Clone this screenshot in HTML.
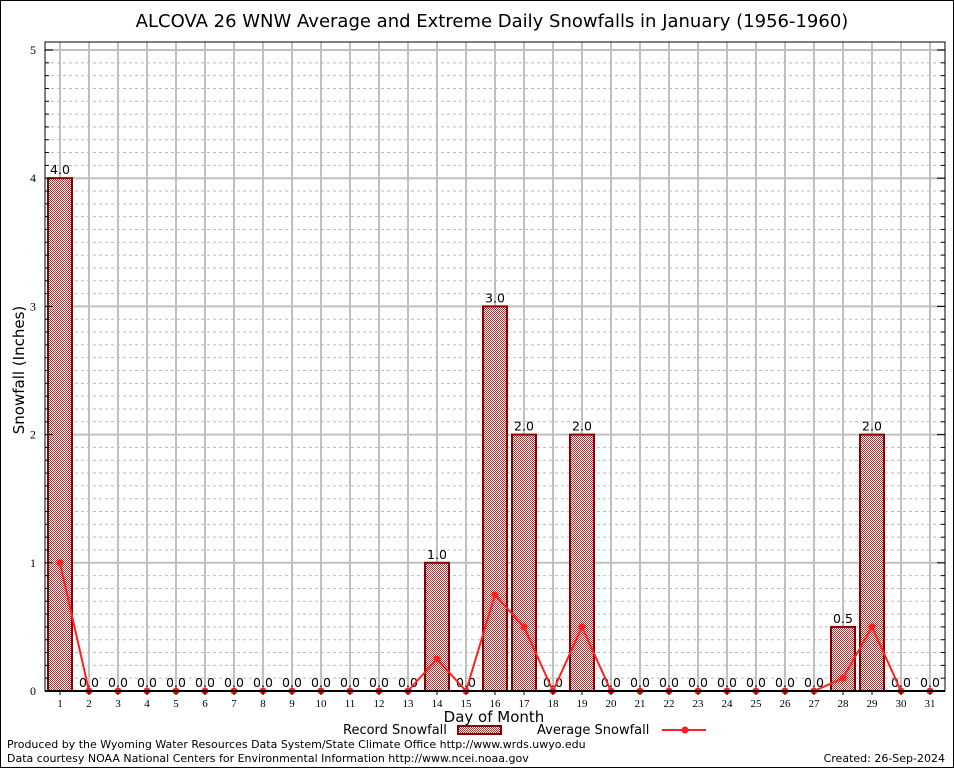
<!DOCTYPE html>
<html><head><meta charset="utf-8"><style>
body{margin:0;background:#fff;}
svg text{font-family:"DejaVu Sans","Liberation Sans",sans-serif;}
svg text.serif{font-family:"Liberation Serif",serif;}
</style></head><body>
<svg id="c" width="954" height="768" xmlns="http://www.w3.org/2000/svg">
<defs>
<pattern id="chk" width="2" height="2" patternUnits="userSpaceOnUse">
<rect width="2" height="2" fill="#fff"/><rect width="1" height="1" fill="#c03030"/><rect x="1" y="1" width="1" height="1" fill="#c03030"/>
</pattern>
</defs>
<rect x="0.5" y="0.5" width="953" height="767" fill="#fff" stroke="#000"/>
<text x="492" y="27" font-size="18" text-anchor="middle">ALCOVA 26 WNW Average and Extreme Daily Snowfalls in January (1956-1960)</text>
<g id="grid"></g>
<g id="bars"></g>
<g id="line"></g>
<g id="axes"></g>
<text transform="translate(24,370) rotate(-90)" font-size="15" text-anchor="middle">Snowfall (Inches)</text>
<text x="494" y="722" font-size="15" text-anchor="middle">Day of Month</text>
<g>
<text x="343" y="734" font-size="13">Record Snowfall</text>
<rect x="458" y="726" width="43" height="8" fill="url(#chk)" stroke="#8b0000" stroke-width="2"/>
</g>
<g>
<text x="537" y="734" font-size="13">Average Snowfall</text>
<line x1="662" y1="730" x2="706" y2="730" stroke="#ff2020" stroke-width="2"/>
<circle cx="685" cy="730" r="3.5" fill="#ff2020"/>
</g>
<text x="7" y="748" font-size="11">Produced by the Wyoming Water Resources Data System/State Climate Office http://www.wrds.uwyo.edu</text>
<text x="7" y="762" font-size="11">Data courtesy NOAA National Centers for Environmental Information http://www.ncei.noaa.gov</text>
<text x="945" y="762" font-size="11" text-anchor="end">Created:  26-Sep-2024</text>
</svg>
<script>
const days=[1,2,3,4,5,6,7,8,9,10,11,12,13,14,15,16,17,18,19,20,21,22,23,24,25,26,27,28,29,30,31];
const recordVals=[4,0,0,0,0,0,0,0,0,0,0,0,0,1,0,3,2,0,2,0,0,0,0,0,0,0,0,0.5,2,0,0];
const avgVals=[1,0,0,0,0,0,0,0,0,0,0,0,0,0.25,0,0.75,0.5,0,0.5,0,0,0,0,0,0,0,0,0.1,0.5,0,0];
const yTicks=[0,1,2,3,4,5];
const NS="http://www.w3.org/2000/svg";
const L=45,R=945,T=42,B=691;
function xs(d){return 60+(d-1)*29;}
function ys(v){return 691-v*128.2;}
function mk(t,a,p){const e=document.createElementNS(NS,t);for(const k in a)e.setAttribute(k,a[k]);p.appendChild(e);return e;}
const grid=document.getElementById('grid'),bars=document.getElementById('bars'),line=document.getElementById('line'),axes=document.getElementById('axes');
for(let i=1;i<50;i++){if(i%10===0)continue;const y=ys(i/10);
 const g=mk('line',{x1:L,x2:R,y1:y,y2:y,stroke:'#bbb','stroke-dasharray':'3,3'},grid);
 
 
 mk('line',{x1:L,x2:L+4,y1:y,y2:y,stroke:'#000'},axes);
 mk('line',{x1:R-4,x2:R,y1:y,y2:y,stroke:'#000'},axes);}
days.forEach(d=>{const g=mk('line',{x1:xs(d),x2:xs(d),y1:T,y2:B,stroke:'#c0c0c0','stroke-width':2},grid);
 
 
 const t=mk('text',{x:xs(d),y:707,'font-size':11,'text-anchor':'middle','class':'serif'},axes);t.textContent=d;
 
 
 mk('line',{x1:xs(d),x2:xs(d),y1:B,y2:B+4,stroke:'#000'},axes);});
yTicks.forEach(v=>{const y=ys(v);
 const g=mk('line',{x1:L,x2:R,y1:y,y2:y,stroke:'#c0c0c0','stroke-width':2},grid);
 
 
 mk('line',{x1:L,x2:L+8,y1:y,y2:y,stroke:'#000'},axes);
 mk('line',{x1:R-8,x2:R,y1:y,y2:y,stroke:'#000'},axes);
 const t=mk('text',{x:36,y:y+4,'font-size':12,'text-anchor':'end','class':'serif'},axes);t.textContent=v;
 
 });
days.forEach((d,i)=>{const v=recordVals[i];
 if(v>0){const r=mk('rect',{x:xs(d)-12,y:ys(v),width:24,height:ys(0)-ys(v),fill:'url(#chk)',stroke:'#8b0000','stroke-width':2},bars);
  
  }
 const t=mk('text',{x:xs(d),y:ys(v)-4,'font-size':12.5,'text-anchor':'middle'},bars);t.textContent=v.toFixed(1);
 
 });
const pts=days.map((d,i)=>xs(d)+','+ys(avgVals[i])).join(' ');
const pl=mk('polyline',{points:pts,fill:'none',stroke:'#ff2020','stroke-width':2},line);


days.forEach((d,i)=>{const c=mk('circle',{cx:xs(d),cy:ys(avgVals[i]),r:3.5,fill:'#ff2020'},line);
 
 });
const fr=mk('rect',{x:L,y:T,width:R-L,height:B-T,fill:'none',stroke:'#000'},axes);


mk('line',{x1:L,x2:R,y1:B,y2:B,stroke:'#000','stroke-width':2},axes);
</script>
</body></html>
